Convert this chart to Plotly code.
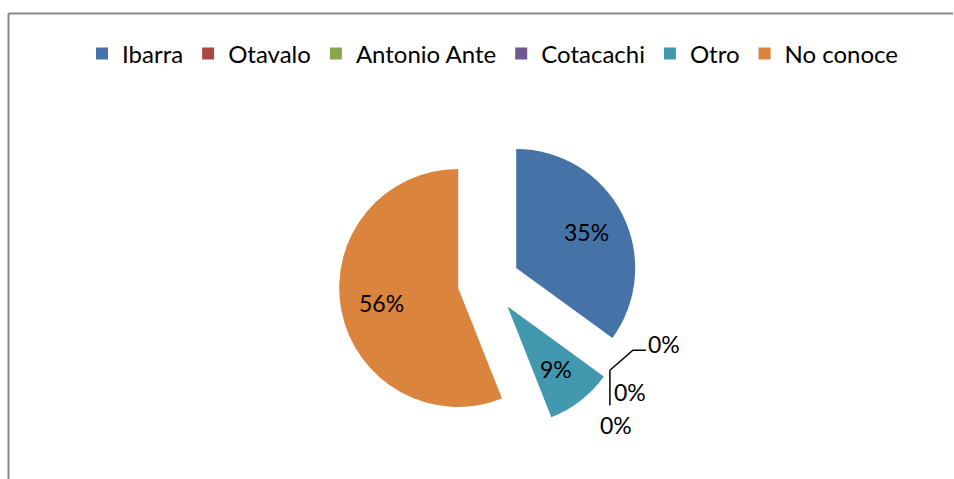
import plotly.graph_objects as go
import math

# ---- data ----
categories = ["Ibarra", "Otavalo", "Antonio Ante", "Cotacachi", "Otro", "No conoce"]
values = [35, 0, 0, 0, 9, 56]
colors = ["#4572A7", "#AA4643", "#89A54E", "#71588F", "#4198AF", "#DB843D"]

# ---- geometry / style (pixels) ----
W, H = 954, 479
PULL = 0.26
CX, CY = 488.6, 282.1
R = 119
FONT = "Lato"
FS = 23
LABEL_FRAC = 0.66

half = R * (1 + PULL)
dom_x = [(CX - half) / W, (CX + half) / W]
dom_y = [1 - (CY + half) / H, 1 - (CY - half) / H]

total = sum(values)

fig = go.Figure(go.Pie(
    labels=categories,
    values=values,
    sort=False,
    direction="clockwise",
    rotation=0,
    pull=[PULL] * len(values),
    marker=dict(colors=colors, line=dict(width=0)),
    textinfo="none",
    hoverinfo="label+percent",
    domain=dict(x=dom_x, y=dom_y),
))


def px(x, y):
    return x / W, 1 - y / H


def unit(deg):
    a = math.radians(deg)
    return math.sin(a), -math.cos(a)


annotations = []
shapes = []

# percentage labels of non-zero slices, placed along each exploded slice's bisector
cum = 0
for v in values:
    if v > 0:
        a0 = cum / total * 360
        a1 = (cum + v) / total * 360
        ux, uy = unit((a0 + a1) / 2)
        vx, vy = CX + PULL * R * ux, CY + PULL * R * uy
        lx, ly = px(vx + LABEL_FRAC * R * ux, vy + LABEL_FRAC * R * uy)
        annotations.append(dict(x=lx, y=ly, xref="paper", yref="paper",
                                text=f"{round(v / total * 100)}%", showarrow=False,
                                font=dict(family=FONT, size=FS, color="black"),
                                xanchor="center", yanchor="middle"))
    cum += v

# labels for zero-value slices with leader lines
label_offsets = [(54, -26), (20, 22), (6, 55)]
leader_paths = [[(0, 0), (23, -20), (36, -20)], None, [(0, 0), (0, 35)]]
cum = 0
zi = 0
for v in values:
    if v == 0 and zi < len(label_offsets):
        ux, uy = unit(cum / total * 360)
        ax = CX + R * (1 + PULL) * ux
        ay = CY + R * (1 + PULL) * uy
        dx, dy = label_offsets[zi]
        lx, ly = px(ax + dx, ay + dy)
        annotations.append(dict(x=lx, y=ly, xref="paper", yref="paper",
                                text="0%", showarrow=False,
                                font=dict(family=FONT, size=FS, color="black"),
                                xanchor="center", yanchor="middle"))
        pts = leader_paths[zi]
        if pts:
            path = ""
            for k, (ox, oy) in enumerate(pts):
                qx, qy = px(ax + ox, ay + oy)
                path += ("M" if k == 0 else "L") + f"{qx},{qy} "
            shapes.append(dict(type="path", path=path.strip(), xref="paper", yref="paper",
                               line=dict(color="black", width=1.5)))
        zi += 1
    cum += v

# chart border (top and left edges visible)
bx0, by0 = px(8.5, 13.5)
bx1, _ = px(953, 0)
_, by1 = px(0, 479)
shapes.append(dict(type="line", xref="paper", yref="paper", x0=bx0, y0=by0, x1=bx1, y1=by0,
                   line=dict(color="#878787", width=2)))
shapes.append(dict(type="line", xref="paper", yref="paper", x0=bx0, y0=by0, x1=bx0, y1=by1,
                   line=dict(color="#878787", width=2)))

lgx, lgy = px(493, 54)
fig.update_layout(
    width=W, height=H,
    margin=dict(l=0, r=0, t=0, b=0),
    paper_bgcolor="white",
    plot_bgcolor="white",
    font=dict(family=FONT, size=FS, color="black"),
    showlegend=True,
    legend=dict(orientation="h", x=lgx, y=lgy, xanchor="center", yanchor="middle",
                font=dict(family=FONT, size=24, color="black"), itemwidth=30,
                traceorder="normal"),
    annotations=annotations,
    shapes=shapes,
)

fig.write_html("out.html", config={"displayModeBar": False},
               post_script="document.body.style.margin='0';document.body.style.overflow='hidden';")
